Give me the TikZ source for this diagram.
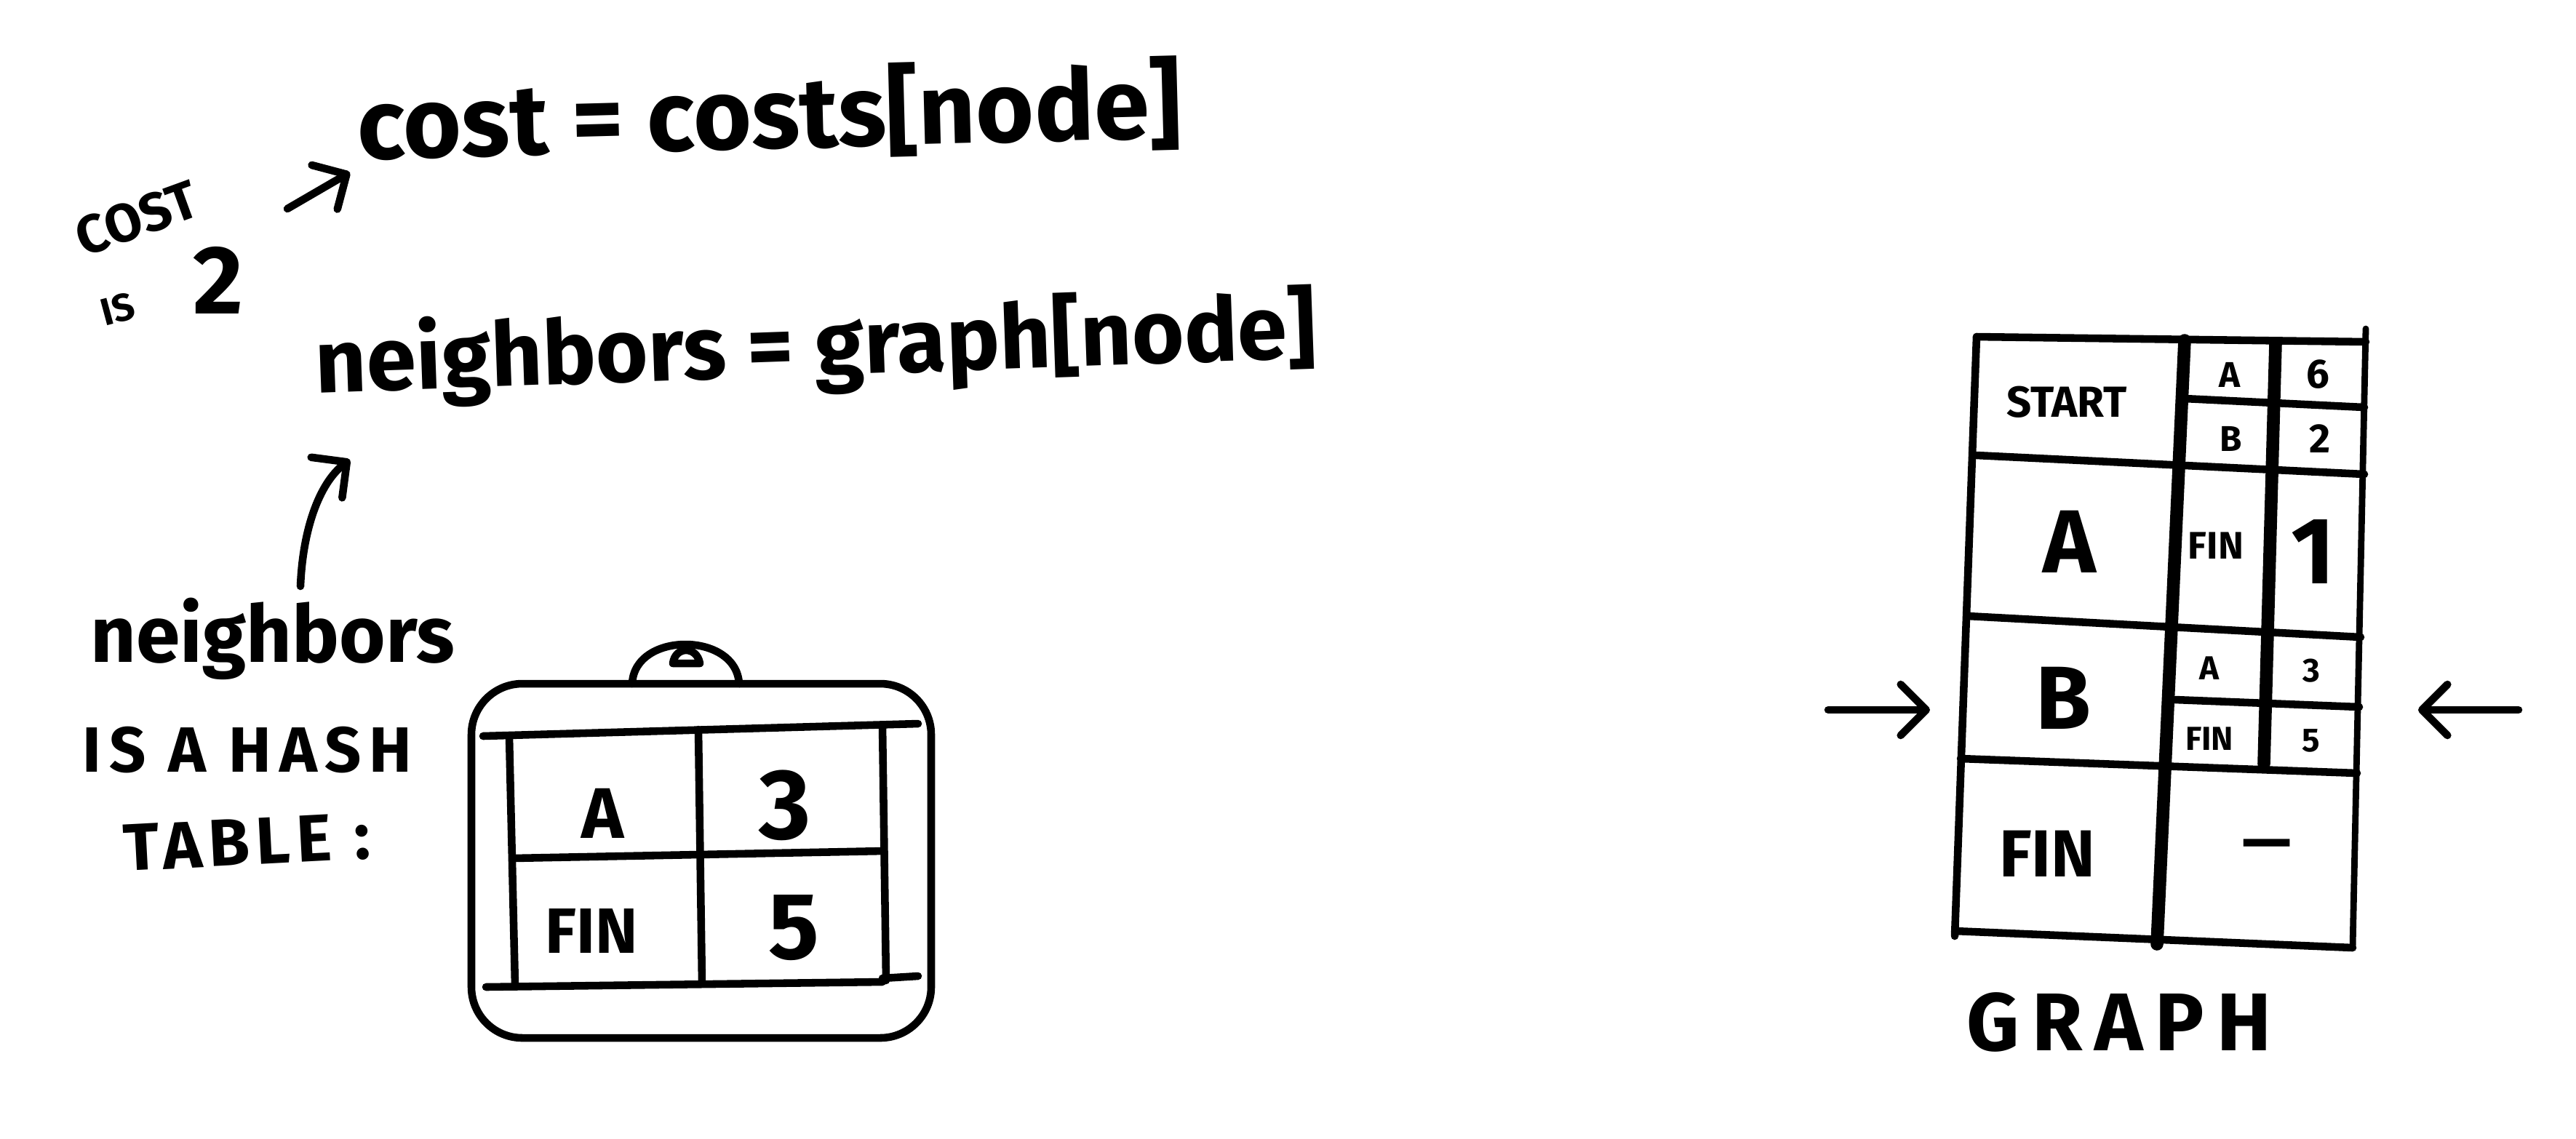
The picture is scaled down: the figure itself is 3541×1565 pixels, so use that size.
\documentclass[tikz,border=0pt]{standalone}
\usepackage{fontspec}
\setmainfont{Fira Sans}
\usetikzlibrary{arrows.meta,positioning,calc}
\newcommand{\hand}[1]{\fontsize{#1pt}{#1pt}\selectfont\bfseries}
\tikzset{
  pen/.style={line width=3pt,line cap=round,line join=round},
  heavypen/.style={line width=5pt,line cap=round},
  handarrow/.style={pen,-{Straight Barb[length=3.5mm,width=7mm,round]}},
  codeline/.style={inner sep=0pt,font=\hand{39}},
  note/.style={inner sep=0pt,font=\hand{28}},
  cellbig/.style={inner sep=0pt,font=\hand{35}},
  cellsmall/.style={inner sep=0pt,font=\hand{14}},
}
\begin{document}
\begin{tikzpicture}[x=0.01cm,y=-0.01cm]
  \useasboundingbox (0,0) rectangle (3541,1565);
  % --- the two code lines ---
  \node[codeline,anchor=base west,rotate=1.5] (costline) at (492,219) {cost = costs[node]};
  \node[codeline,font=\hand{35},anchor=base west,rotate=2] (nbline) at (434,540) {neighbors = graph[node]};
  % --- note: cost is 2 ---
  \node[note,font=\hand{21},rotate=20] (costnote) at (188,300) {COST};
  \node[note,font=\hand{15},rotate=15] (isnote) at (162,425) {IS};
  \node[note,font=\hand{38}] (two) at (300,385) {2};
  \coordinate (costtail) at (395,287);
  \coordinate (costhead) at (481,237);
  \draw[handarrow] (costtail) -- (costhead);
  % --- note: neighbors is a hash table ---
  \node[note,font=\hand{31},anchor=base west] (nblabel) at (124,910) {neighbors};
  \node[note,font=\hand{25}\addfontfeature{LetterSpace=12},anchor=west] (hashlabel) at (113,1031) {IS A HASH};
  \node[note,font=\hand{26}\addfontfeature{LetterSpace=10},anchor=west,rotate=3] (tablelabel) at (169,1167) {TABLE :};
  \coordinate (nbtail) at (413,806);
  \coordinate (nbhead) at (481,632);
  \draw[handarrow] (nbtail) .. controls (416,730) and (438,665) .. (nbhead);
  % --- hash table tag ---
  \draw[pen,rounded corners=7mm] (648,940) rectangle (1280,1427);
  \draw[pen] (869,940) .. controls (872,868) and (1012,868) .. (1016,940);
  \draw[pen] (925,912) .. controls (928,888) and (958,888) .. (962,912) -- cycle;
  \draw[pen] (664,1012) -- (1262,995);
  \draw[pen] (668,1357) -- (1213,1350);
  \draw[pen] (1213,1345) -- (1262,1342);
  \draw[pen] (700,1012) -- (708,1355);
  \draw[pen] (1213,997) -- (1218,1348);
  \draw[pen] (960,1003) -- (965,1352);
  \draw[pen] (705,1180) -- (1215,1170);
  \node[cellbig,font=\hand{28}] (hkA) at (829,1118) {A};
  \node[cellbig,font=\hand{39}] (hv3) at (1079,1107) {3};
  \node[cellbig,font=\hand{25}] (hkFIN) at (813,1280) {FIN};
  \node[cellbig,font=\hand{37}] (hv5) at (1091,1276) {5};
  % --- graph table: outline and rows ---
  \draw[pen] (2717,463) -- (2687,1287);
  \draw[pen,line width=2.5pt] (3252,452) -- (3234,1303);
  \draw[heavypen] (3003,468) -- (2965,1298);
  \draw[heavypen] (3128,472) -- (3112,1050);
  \draw[pen] (2717,463) -- (3252,470);
  \draw[pen] (2717,626) -- (3250,652);
  \draw[pen] (3003,548) -- (3250,560);
  \draw[pen] (2705,847) -- (3245,876);
  \draw[pen] (2990,962) -- (3243,972);
  \draw[pen] (2695,1043) -- (3240,1063);
  \draw[pen] (2687,1280) -- (3234,1303);
  % --- graph table: cells ---
  \node[cellsmall,font=\hand{17}] (gkSTART) at (2841,553) {START};
  \node[cellsmall] (gsA) at (3065,515) {A};
  \node[cellsmall,font=\hand{16}] (gs6) at (3186,515) {6};
  \node[cellsmall] (gsB) at (3067,603) {B};
  \node[cellsmall,font=\hand{16}] (gs2) at (3189,603) {2};
  \node[cellbig] (gkA) at (2845,745) {A};
  \node[cellsmall,font=\hand{15}] (gaFIN) at (3046,750) {FIN};
  \node[cellbig,font=\hand{37}] (ga1) at (3180,758) {1};
  \node[cellbig] (gkB) at (2836,960) {B};
  \node[cellsmall,font=\hand{13}] (gbA) at (3037,919) {A};
  \node[cellsmall,font=\hand{13}] (gb3) at (3177,922) {3};
  \node[cellsmall,font=\hand{13}] (gbFIN) at (3037,1016) {FIN};
  \node[cellsmall,font=\hand{13}] (gb5) at (3177,1018) {5};
  \node[cellbig,font=\hand{26}] (gkFIN) at (2814,1174) {FIN};
  \node[cellbig,font=\hand{24}] (gdash) at (3116,1170) {—};
  \node[cellbig,font=\hand{32}\addfontfeature{LetterSpace=15}] (graphname) at (2913,1405) {GRAPH};
  % --- arrows at row B ---
  \coordinate (inL) at (2513,976);
  \coordinate (atL) at (2653,976);
  \coordinate (inR) at (3462,976);
  \coordinate (atR) at (3324,976);
  \draw[handarrow] (inL) -- (atL);
  \draw[handarrow] (inR) -- (atR);
\end{tikzpicture}
\end{document}
